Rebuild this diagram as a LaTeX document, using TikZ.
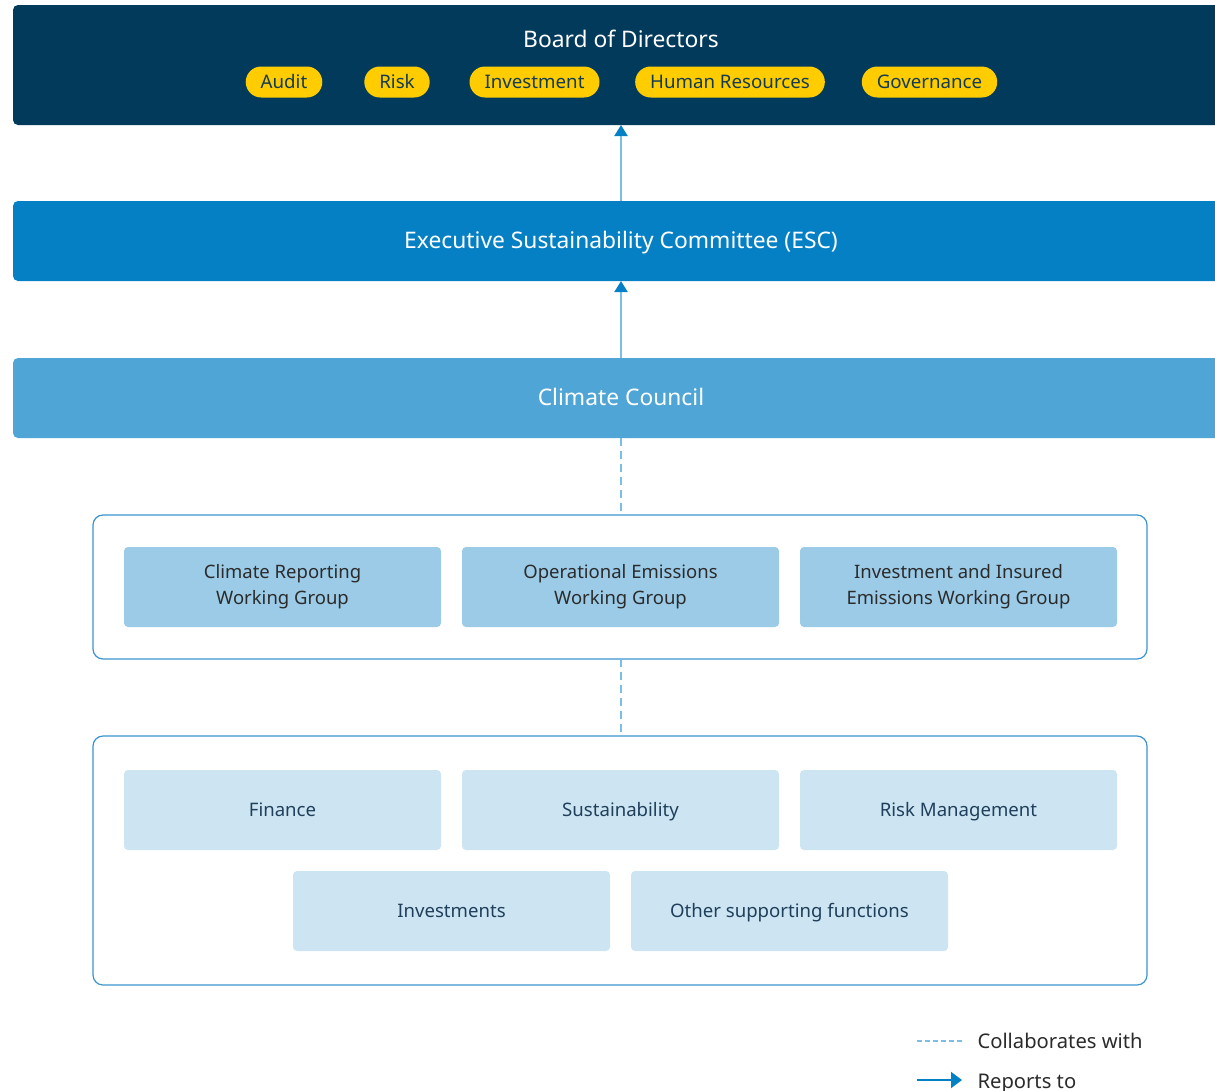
\documentclass[tikz,border=0pt]{standalone}
\usepackage{fontspec}
\setmainfont{Noto Sans}
\usetikzlibrary{arrows.meta}

\definecolor{board}{HTML}{023A5C}
\definecolor{esc}{HTML}{0580C5}
\definecolor{council}{HTML}{4FA5D5}
\definecolor{wgfill}{HTML}{9BCBE7}
\definecolor{fnfill}{HTML}{CDE5F2}
\definecolor{pill}{HTML}{FFCC00}
\definecolor{pilltext}{HTML}{123C56}
\definecolor{frame}{HTML}{3A93CF}
\definecolor{link}{HTML}{7CBFE6}
\definecolor{darktext}{HTML}{2B2B2B}
\definecolor{fntext}{HTML}{1F3F5A}

\begin{document}
\begin{tikzpicture}[x=1pt,y=-1pt,
	band/.style = {rounded corners=5pt},
	pillbox/.style = {fill=pill, rounded corners=15.5pt, minimum height=31pt,
		inner xsep=15pt, inner ysep=0pt, text=pilltext,
		text height=17pt, text depth=3.6pt,
		font=\fontsize{18.7}{21}\selectfont},
	wgbox/.style = {fill=wgfill, rounded corners=4pt, minimum width=317pt,
		minimum height=80pt, align=center, text=darktext,
		font=\fontsize{18.5}{26}\selectfont},
	fnbox/.style = {fill=fnfill, rounded corners=4pt, minimum width=317pt,
		minimum height=80pt, text=fntext, text height=17pt, text depth=3.8pt,
		font=\fontsize{18.6}{22}\selectfont},
	group/.style = {draw=frame, line width=1.2pt, rounded corners=10pt},
	reports/.style = {draw=link, line width=2pt,
		-{Triangle[length=11pt,width=13pt,color=esc]}},
	collab/.style = {draw=link, line width=2pt, dash pattern=on 8pt off 5pt},
	title/.style = {text=white, text height=20pt, text depth=3.7pt,
		font=\fontsize{22.8}{26}\selectfont},
	keytext/.style = {anchor=west, text=darktext, text height=18pt,
		text depth=3.6pt, font=\fontsize{20.2}{23}\selectfont}]
	\useasboundingbox (0,0) rectangle (1215,1090);

	% the three wide bands, running off the right edge
	\fill[band, board] (13,5) rectangle (1229,125);
	\node[title] (bod) at (621,39) {Board of Directors};
	\fill[band, esc] (13,201) rectangle (1229,281);
	\node[title] (escname) at (621,240) {Executive Sustainability Committee (ESC)};
	\fill[band, council] (13,358) rectangle (1229,438);
	\node[title] (ccname) at (621,397) {Climate Council};
	\coordinate (bodbot) at (621,125);
	\coordinate (esctop) at (621,201);
	\coordinate (escbot) at (621,281);
	\coordinate (cctop) at (621,358);
	\coordinate (ccbot) at (621,438);

	% board committees
	\node[pillbox] (audit) at (284,82) {Audit};
	\node[pillbox] (risk) at (397,82) {Risk};
	\node[pillbox] (invest) at (534.5,82) {Investment};
	\node[pillbox] (hr) at (730,82) {Human Resources};
	\node[pillbox] (gov) at (929.5,82) {Governance};

	% working groups
	\draw[group] (93,515) rectangle (1147,659);
	\coordinate (wgtop) at (621,515);
	\coordinate (wgbot) at (621,659);
	\node[wgbox] (crwg) at (282.5,587) {Climate Reporting\\Working Group};
	\node[wgbox] (oewg) at (620.5,587) {Operational Emissions\\Working Group};
	\node[wgbox] (iiwg) at (958.5,587) {Investment and Insured\\Emissions Working Group};

	% supporting functions
	\draw[group] (93,736) rectangle (1147,985);
	\coordinate (fntop) at (621,736);
	\node[fnbox] (fin) at (282.5,810) {Finance};
	\node[fnbox] (sus) at (620.5,810) {Sustainability};
	\node[fnbox] (rm) at (958.5,810) {Risk Management};
	\node[fnbox] (inv) at (451.5,911) {Investments};
	\node[fnbox] (other) at (789.5,911) {Other supporting functions};

	% links
	\draw[reports] (esctop) -- (bodbot);
	\draw[reports] (cctop) -- (escbot);
	\draw[collab] (ccbot) -- (wgtop);
	\draw[collab] (wgbot) -- (fntop);

	% key
	\coordinate (ka) at (917,1041);
	\coordinate (kb) at (962,1041);
	\coordinate (kc) at (917,1080);
	\coordinate (kd) at (962,1080);
	\draw[draw=link, line width=1.5pt, dash pattern=on 5pt off 3pt] (ka) -- (kb);
	\draw[draw=esc, line width=2pt, -{Triangle[length=11pt,width=16pt]}] (kc) -- (kd);
	\node[keytext] (kcollab) at (974,1041) {Collaborates with};
	\node[keytext] (kreport) at (974,1081) {Reports to};
\end{tikzpicture}
\end{document}
